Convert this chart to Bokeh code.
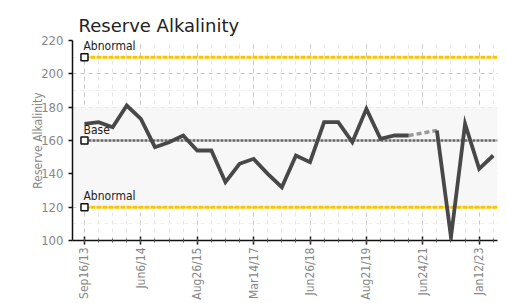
import math
from bokeh.plotting import figure
from bokeh.models import FixedTicker, BoxAnnotation, Range1d, ColumnDataSource, Label
from bokeh.embed import file_html
from bokeh.resources import INLINE

# ---- data ----
idx = list(range(30))
values = [170, 171, 168, 181, 173, 156, 159, 163, 154, 154,
          135, 146, 149, 140, 132, 151, 147, 171, 171, 159,
          179, 161, 163, 163, None, 166, 102, 170, 143, 151]
tick_pos = [0, 4, 8, 12, 16, 20, 24, 28]
tick_labels = ["Sep16/13", "Jun6/14", "Aug26/15", "Mar14/17",
               "Jun26/18", "Aug21/19", "Jun24/21", "Jan12/23"]
gap_x = [23, 25]
gap_y = [163, 166]
abnormal_hi = 210
abnormal_lo = 120
base = 160

FONT = "DejaVu Sans Condensed"

p = figure(width=505, height=302, output_backend="svg", toolbar_location=None,
           x_range=Range1d(-0.85, 29.3), y_range=Range1d(100, 220),
           min_border_left=72, min_border_right=8, min_border_top=40, min_border_bottom=60,
           title="Reserve Alkalinity")
p.outline_line_color = None
p.title.text_font = "DejaVu Sans"
p.title.text_font_size = "18px"
p.title.text_font_style = "normal"
p.title.text_color = "#222222"
p.title.offset = 6

# background band
p.add_layout(BoxAnnotation(bottom=120, top=180, fill_color="#f7f7f7", fill_alpha=1.0, line_color=None, level="underlay"))

# axes
p.xaxis.ticker = FixedTicker(ticks=tick_pos, minor_ticks=list(range(0, 30)))
p.xaxis.major_label_overrides = {t: l for t, l in zip(tick_pos, tick_labels)}
p.xaxis.major_label_orientation = math.pi / 2
p.yaxis.ticker = FixedTicker(ticks=[100, 120, 140, 160, 180, 200, 220], minor_ticks=[110, 130, 150, 170, 190, 210])
for ax in (p.xaxis, p.yaxis):
    ax.axis_line_color = "#111111"
    ax.axis_line_width = 1.5
    ax.major_tick_line_color = "#111111"
    ax.major_tick_line_width = 1.5
    ax.major_label_text_font = FONT
    ax.major_label_text_color = "#888888"
p.xaxis.major_label_text_font_size = "12px"
p.yaxis.major_label_text_font_size = "13px"
p.xaxis.major_label_standoff = 3
p.xaxis.major_tick_in = 4
p.xaxis.major_tick_out = 4
p.xaxis.minor_tick_in = 2
p.xaxis.minor_tick_out = 2
p.xaxis.minor_tick_line_color = "#555555"
p.yaxis.major_tick_in = 0
p.yaxis.major_tick_out = 4
p.yaxis.minor_tick_line_color = None
p.yaxis.axis_label = "Reserve Alkalinity"
p.yaxis.axis_label_text_font = FONT
p.yaxis.axis_label_text_font_size = "12px"
p.yaxis.axis_label_text_font_style = "normal"
p.yaxis.axis_label_text_color = "#888888"
p.yaxis.axis_label_standoff = -7

# grids
p.xgrid.grid_line_color = "#c8c8c8"
p.xgrid.grid_line_dash = "4 4"
p.xgrid.minor_grid_line_color = "#e6e6e6"
p.xgrid.minor_grid_line_dash = "4 4"
p.ygrid.grid_line_color = "#c8c8c8"
p.ygrid.grid_line_dash = "4 4"
p.ygrid.minor_grid_line_color = "#f0f0f0"
p.ygrid.minor_grid_line_dash = "4 4"

# reference lines
xs_ref = [0, 29.3]
p.line(xs_ref, [abnormal_hi] * 2, line_color="#f7c600", line_width=3, line_dash="5 1")
p.line(xs_ref, [abnormal_lo] * 2, line_color="#f7c600", line_width=3, line_dash="5 1")
p.line(xs_ref, [base] * 2, line_color="#666666", line_width=2.5, line_dash="3 1")
p.scatter([0, 0, 0], [abnormal_hi, base, abnormal_lo], marker="square", size=7,
          fill_color="white", line_color="#111111", line_width=1.5)
for yv, txt in [(abnormal_hi, "Abnormal"), (base, "Base"), (abnormal_lo, "Abnormal")]:
    p.add_layout(Label(x=0, y=yv, text=txt, x_offset=-1, y_offset=4,
                       text_font=FONT, text_font_size="12px", text_color="#222222"))

# data
src = ColumnDataSource(dict(x=idx, y=[float("nan") if v is None else v for v in values]))
p.line(gap_x, gap_y, line_color="#999999", line_width=3.5, line_dash="5 3")
p.line("x", "y", source=src, line_color="#484848", line_width=3.8, line_join="miter")

open("out.html", "w").write(file_html(p, INLINE))
